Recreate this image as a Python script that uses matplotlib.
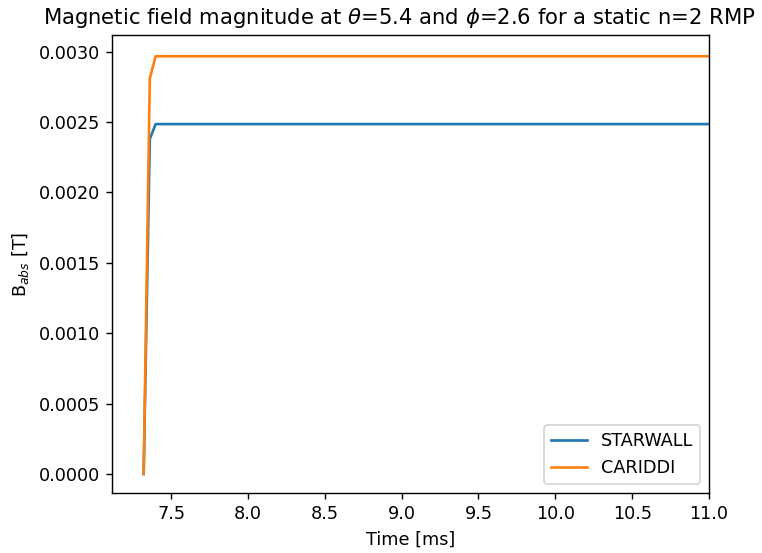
import numpy as np
import matplotlib
matplotlib.use('Agg')
from matplotlib import pyplot as plt

# time in ms, field in T
time = [7.322, 7.362] + list(np.arange(7.40, 11.45, 0.04))
starwall = [0.0, 0.00238] + [0.002486] * (len(time) - 2)
cariddi = [0.0, 0.00281] + [0.002968] * (len(time) - 2)

dpi = 127
fig = plt.figure(figsize=(762 / dpi, 553 / dpi), dpi=dpi)
ax = fig.add_axes([112/762, 1 - 493/553, (709-112)/762, (493-35)/553])
ax.plot(time, starwall, label='STARWALL', color='#1f77b4')
ax.plot(time, cariddi, label='CARIDDI', color='#ff7f0e')
ax.set_xlim(7.116, 11.0)
ax.set_ylim(-0.000135, 0.003119)
ax.set_xticks(np.arange(7.5, 11.01, 0.5))
ax.set_yticks(np.arange(0, 0.00301, 0.0005))
ax.yaxis.set_major_formatter(matplotlib.ticker.FormatStrFormatter('%.4f'))
ax.set_xlabel('Time [ms]')
ax.set_ylabel(r'B$_{abs}$ [T]')
ax.set_title(r'Magnetic field magnitude at $\theta$=5.4 and $\phi$=2.6 for a static n=2 RMP',
             x=(399 - 112) / 597)
ax.legend(loc='lower right')
plt.savefig('out.png', dpi=dpi)
